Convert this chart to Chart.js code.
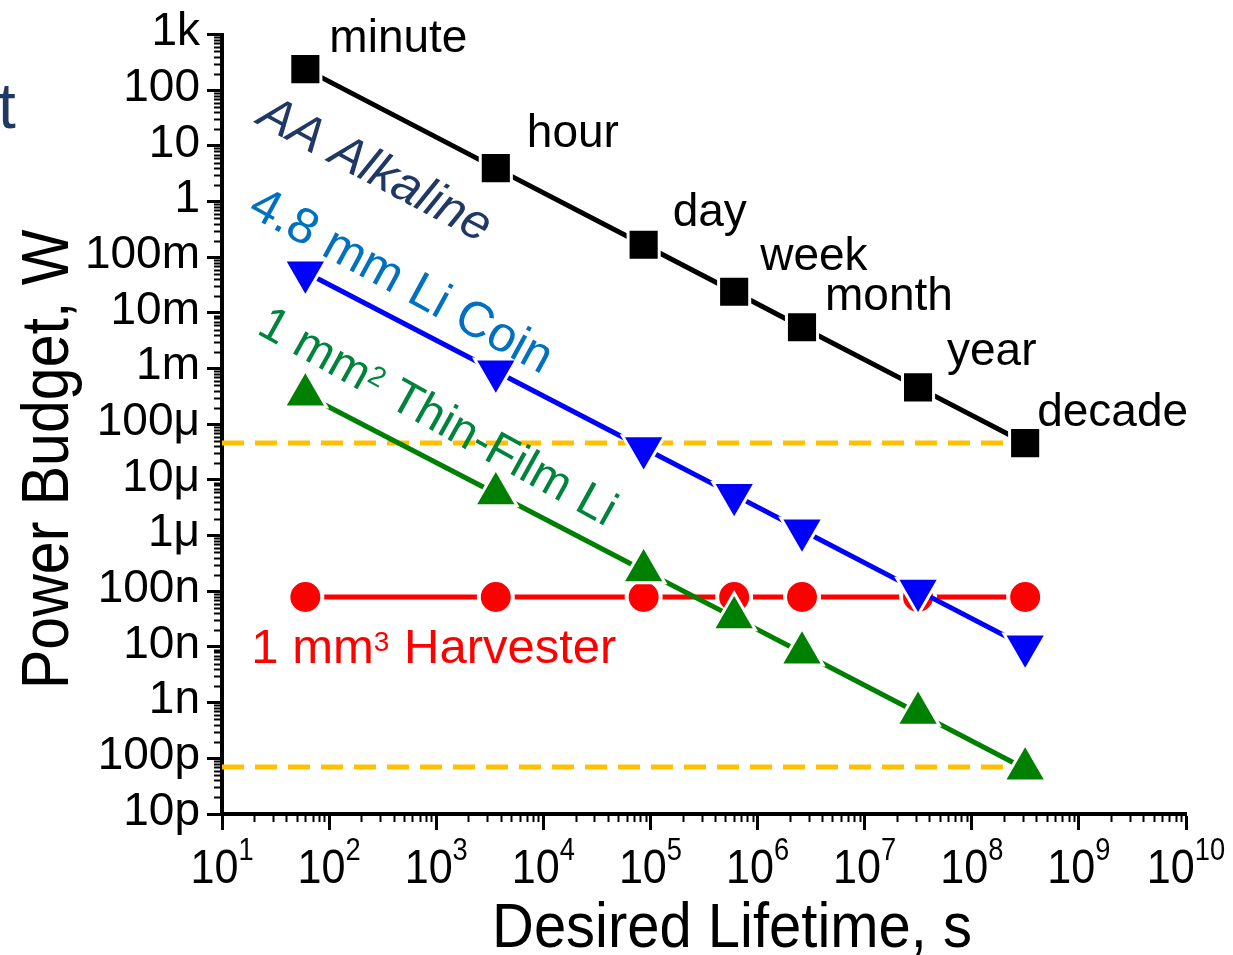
<!DOCTYPE html>
<html lang="en">
<head>
<meta charset="UTF-8"/>
<title>Power Budget vs Desired Lifetime</title>
<script src="https://cdn.jsdelivr.net/npm/chart.js"></script>
<style>
  html, body { margin: 0; padding: 0; background: #fff; overflow: hidden; }
  #wrap { width: 1233px; height: 955px; }
</style>
</head>
<body>
<div id="wrap"><canvas id="chart" width="1233" height="955"></canvas></div>
<script>
// lifetimes in seconds
const lifetimes = [60, 3600, 86400, 604800, 2.6e6, 3.15e7, 3.15e8];
const lifetimeNames = ['minute', 'hour', 'day', 'week', 'month', 'year', 'decade'];
// power budget in W for each source
const aaAlkaline = [240, 4.0, 0.168, 0.024, 5.55e-3, 4.6e-4, 4.6e-5];
const liCoin = [0.054, 9.0e-4, 3.76e-5, 5.4e-6, 1.25e-6, 1.03e-7, 1.03e-8];
const thinFilm = [3.4e-4, 5.7e-6, 2.37e-7, 3.4e-8, 7.9e-9, 6.5e-10, 6.5e-11];
const harvester = [7.9e-8, 7.9e-8, 7.9e-8, 7.9e-8, 7.9e-8, 7.9e-8, 7.9e-8];
// dashed reference levels
const refLevels = [4.6e-5, 7.0e-11];
const refSpan = [10, 3.15e8];
// axis ticks
const yTickLabels = ['10p', '100p', '1n', '10n', '100n', '1μ', '10μ', '100μ', '1m', '10m', '100m', '1', '10', '100', '1k'];
const yMinExp = -11, yMaxExp = 3;
const xExponents = [1, 2, 3, 4, 5, 6, 7, 8, 9, 10];

const FONT = '"Liberation Sans", Arial, sans-serif';
// little pixel nudges for the lifetime names, relative to the black squares
const nameNudge = [[24, -17], [31, -21], [29, -19], [26, -22], [23, -17], [29, -22], [12, -17]];

const pts = ys => lifetimes.map((x, i) => ({ x, y: ys[i] }));
const refPts = v => refSpan.map(x => ({ x, y: v }));

const decor = {
  id: 'decor',
  afterDraw(chart) {
    const { ctx, chartArea: a, scales: { x, y } } = chart;
    ctx.save();
    // minor ticks
    ctx.strokeStyle = '#000';
    ctx.lineWidth = 2;
    ctx.beginPath();
    for (let e = yMinExp; e < yMaxExp; e++) {
      for (let k = 2; k <= 9; k++) {
        const py = Math.round(y.getPixelForValue(k * Math.pow(10, e))) + 0.5;
        ctx.moveTo(a.left - 8, py);
        ctx.lineTo(a.left, py);
      }
    }
    for (let e = xExponents[0]; e < xExponents[xExponents.length - 1]; e++) {
      for (let k = 2; k <= 9; k++) {
        const px = Math.round(x.getPixelForValue(k * Math.pow(10, e))) + 0.5;
        ctx.moveTo(px, a.bottom);
        ctx.lineTo(px, a.bottom + 8);
      }
    }
    ctx.stroke();

    // x tick labels 10^n
    ctx.fillStyle = '#000';
    ctx.textAlign = 'left';
    ctx.textBaseline = 'alphabetic';
    xExponents.forEach(n => {
      const px = x.getPixelForValue(Math.pow(10, n));
      ctx.save();
      ctx.translate(px, a.bottom);
      ctx.scale(0.88, 1);
      ctx.font = '49px ' + FONT;
      const wb = ctx.measureText('10').width;
      ctx.font = '31px ' + FONT;
      const ws = ctx.measureText(String(n)).width;
      const s = -(wb + ws) / 2;
      ctx.font = '49px ' + FONT;
      ctx.fillText('10', s, 69);
      ctx.font = '31px ' + FONT;
      ctx.fillText(String(n), s + wb, 46);
      ctx.restore();
    });

    // axis titles
    ctx.save();
    ctx.translate(a.left + (a.right - a.left) / 2 + 28, a.bottom + 133);
    ctx.scale(0.92, 1);
    ctx.font = '63px ' + FONT;
    ctx.textAlign = 'center';
    ctx.fillText('Desired Lifetime, s', 0, 0);
    ctx.restore();

    ctx.save();
    ctx.translate(a.left - 154, a.top + (a.bottom - a.top) / 2 + 35);
    ctx.rotate(-Math.PI / 2);
    ctx.scale(0.895, 1);
    ctx.font = '66px ' + FONT;
    ctx.textAlign = 'center';
    ctx.fillText('Power Budget, W', 0, 0);
    ctx.restore();

    // lifetime names next to the AA points
    ctx.font = '46px ' + FONT;
    ctx.textAlign = 'left';
    lifetimes.forEach((t, i) => {
      const px = x.getPixelForValue(t), py = y.getPixelForValue(aaAlkaline[i]);
      ctx.fillText(lifetimeNames[i], px + nameNudge[i][0], py + nameNudge[i][1]);
    });

    // series labels; parts in [text, isSuperscript]
    const seriesLabel = (parts, ys, dx, dy, deg, style, size, color) => {
      const px = x.getPixelForValue(lifetimes[0]), py = y.getPixelForValue(ys[0]);
      ctx.save();
      ctx.translate(px + dx, py + dy);
      ctx.rotate(deg * Math.PI / 180);
      ctx.fillStyle = color;
      ctx.textAlign = 'left';
      let cx = 0;
      parts.forEach(([txt, sup]) => {
        ctx.font = style + (sup ? Math.round(size * 0.58) : size) + 'px ' + FONT;
        ctx.fillText(txt, cx, sup ? -size * 0.24 : 0);
        cx += ctx.measureText(txt).width + (sup ? 1 : 0);
      });
      ctx.restore();
    };
    seriesLabel([['AA Alkaline']], aaAlkaline, -50, 54, 28, 'italic ', 50, '#203864');
    seriesLabel([['4.8 mm Li Coin']], liCoin, -59, -58, 28.5, '', 50, '#0070c0');
    seriesLabel([['1 mm'], ['2', true], [' Thin-Film Li']], thinFilm, -50, -62, 29, '', 48, '#00843c');
    seriesLabel([['1 mm'], ['3', true], [' Harvester']], harvester, -54, 66, 0, '', 49, '#ff0000');

    // cut-off letter at the left edge of the slide
    ctx.font = '64px ' + FONT;
    ctx.fillStyle = '#203864';
    ctx.fillText('t', -2, 128);
    ctx.restore();
  }
};

new Chart(document.getElementById('chart'), {
  type: 'line',
  data: {
    datasets: [
      {
        label: 'AA Alkaline', data: pts(aaAlkaline),
        borderColor: '#000', backgroundColor: '#000', borderWidth: 5,
        pointStyle: 'rect', pointRadius: 22, pointBackgroundColor: '#000',
        pointBorderColor: '#fff', pointBorderWidth: 3
      },
      {
        label: '4.8 mm Li Coin', data: pts(liCoin),
        borderColor: '#0000ff', backgroundColor: '#0000ff', borderWidth: 5,
        pointStyle: 'triangle', pointRotation: 180, pointRadius: 24.5,
        pointBackgroundColor: '#0000ff', pointBorderColor: '#fff', pointBorderWidth: 3
      },
      {
        label: '1 mm² Thin-Film Li', data: pts(thinFilm),
        borderColor: '#008000', backgroundColor: '#008000', borderWidth: 5,
        pointStyle: 'triangle', pointRadius: 24.5,
        pointBackgroundColor: '#008000', pointBorderColor: '#fff', pointBorderWidth: 3
      },
      {
        label: '1 mm³ Harvester', data: pts(harvester),
        borderColor: '#ff0000', backgroundColor: '#ff0000', borderWidth: 5,
        pointStyle: 'circle', pointRadius: 17,
        pointBackgroundColor: '#ff0000', pointBorderColor: '#fff', pointBorderWidth: 4
      },
      {
        label: 'ref high', data: refPts(refLevels[0]),
        borderColor: '#ffc000', borderWidth: 5, borderDash: [22, 11], pointRadius: 0
      },
      {
        label: 'ref low', data: refPts(refLevels[1]),
        borderColor: '#ffc000', borderWidth: 5, borderDash: [22, 11], pointRadius: 0
      }
    ]
  },
  options: {
    responsive: false,
    animation: false,
    events: [],
    layout: { padding: { top: 31, right: 47, left: 0, bottom: 0 } },
    plugins: { legend: { display: false }, tooltip: { enabled: false } },
    scales: {
      x: {
        type: 'logarithmic', min: 10, max: 1e10,
        afterFit: s => { s.height = 141; },
        afterBuildTicks: s => { s.ticks = xExponents.map(n => ({ value: Math.pow(10, n) })); },
        ticks: { display: false, autoSkip: false },
        grid: { drawOnChartArea: false, tickLength: 16, tickWidth: 3, tickColor: '#000' },
        border: { display: true, color: '#000', width: 4 }
      },
      y: {
        type: 'logarithmic', min: 1e-11, max: 1e3,
        afterFit: s => { s.width = 222; },
        afterBuildTicks: s => {
          const t = [];
          for (let e = yMinExp; e <= yMaxExp; e++) t.push({ value: Math.pow(10, e) });
          s.ticks = t;
        },
        ticks: {
          autoSkip: false, padding: 7, color: '#000', labelOffset: -2,
          font: { family: FONT, size: 46 },
          callback: v => yTickLabels[Math.round(Math.log10(v)) - yMinExp]
        },
        grid: { drawOnChartArea: false, tickLength: 15, tickWidth: 3, tickColor: '#000' },
        border: { display: true, color: '#000', width: 4 }
      }
    }
  },
  plugins: [decor]
});
</script>
</body>
</html>
